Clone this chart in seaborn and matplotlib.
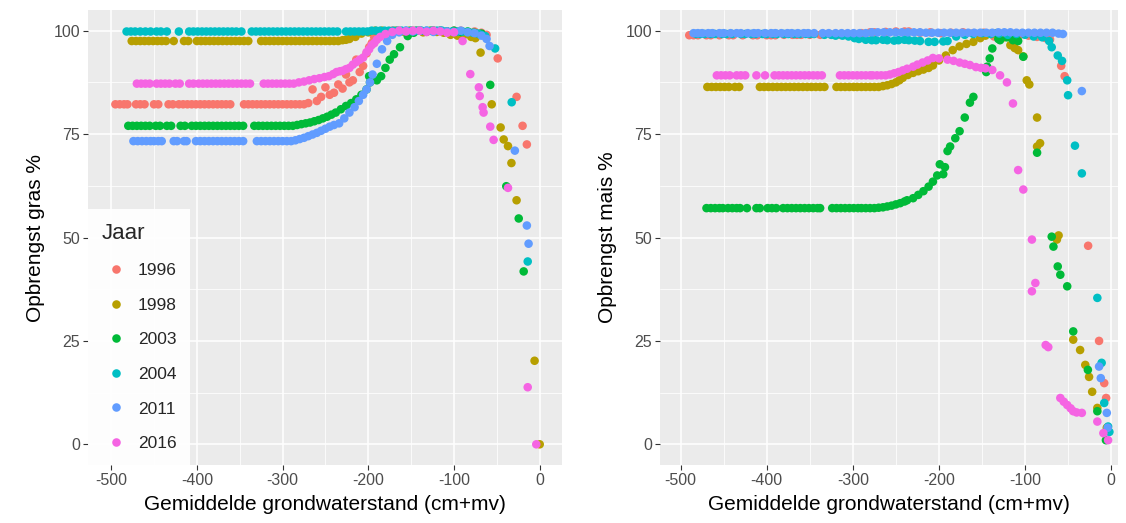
import matplotlib
matplotlib.use("Agg")
import matplotlib.pyplot as plt
from matplotlib.ticker import MultipleLocator
import pandas as pd
import seaborn as sns

jaren = ["1996", "1998", "2003", "2004", "2011", "2016"]
kleuren = ["#F8766D", "#B79F00", "#00BA38", "#00BFC4", "#619CFF", "#F564E3"]

# ---------------- Gras: gemiddelde grondwaterstand (cm+mv) en opbrengst (%) ----------------
gras_1996_x = [-495, -490, -485, -481, -471, -466, -461, -450, -445, -433, -428,
               -421, -416, -411, -406, -401, -396, -391, -386, -381, -376, -371, -366, -361,
               -345, -340, -335, -330, -325, -320, -315, -310, -305, -300, -295, -290, -285, -280, -275,
               -270, -265, -260, -255, -250, -245, -240, -235, -230, -226, -222, -218, -214, -210,
               -206, -202, -199, -196, -193, -189,
               -180, -172, -164, -156, -148, -140, -132, -124, -116, -108, -100, -92, -84, -76, -68, -62,
               -49, -27, -20, -15]
gras_1996_y = [82.2, 82.2, 82.2, 82.2, 82.2, 82.2, 82.2, 82.2, 82.2, 82.2, 82.2,
               82.2, 82.2, 82.2, 82.2, 82.2, 82.2, 82.2, 82.2, 82.2, 82.2, 82.2, 82.2, 82.2,
               82.2, 82.2, 82.2, 82.2, 82.2, 82.2, 82.2, 82.2, 82.2, 82.2, 82.2, 82.2, 82.2, 82.2, 82.2,
               82.5, 85.8, 83.0, 84.0, 86.3, 84.5, 85.0, 87.0, 86.0, 89.4, 87.5, 88.0, 93.0, 90.0,
               91.5, 94.5, 96.0, 97.0, 98.4, 99.5,
               99.8, 100.0, 100.0, 99.8, 100.0, 100.0, 99.7, 100.0, 100.0, 99.8, 100.0, 100.0, 99.6, 99.8, 99.5, 99.0,
               93.3, 84.0, 77.0, 72.5]

gras_1998_x = [-476, -471, -466, -461, -456, -451, -446, -441, -436, -427, -415, -410,
               -400, -395, -390, -385, -380, -375, -370, -365, -360, -355, -350, -345, -340,
               -325, -320, -315, -310, -305, -300, -295, -290, -285, -280, -275, -270, -265, -260,
               -255, -250, -245, -240, -235, -230, -226, -222,
               -215, -208, -200, -192, -184, -176, -168, -160, -152, -144, -136, -128, -120, -112,
               -104, -96, -88, -80, -75,
               -69, -56, -45.6, -42, -37, -33, -27, -6, 0]
gras_1998_y = [97.5, 97.5, 97.5, 97.5, 97.5, 97.5, 97.5, 97.5, 97.5, 97.5, 97.5, 97.5,
               97.5, 97.5, 97.5, 97.5, 97.5, 97.5, 97.5, 97.5, 97.5, 97.5, 97.5, 97.5, 97.5,
               97.5, 97.5, 97.5, 97.5, 97.5, 97.5, 97.5, 97.5, 97.5, 97.5, 97.5, 97.5, 97.5, 97.5,
               97.5, 97.5, 97.5, 97.5, 97.5, 97.7, 97.8, 98.0,
               98.5, 99.3, 99.6, 100.0, 100.0, 99.7, 100.0, 99.8, 100.0, 100.0, 99.6, 100.0, 99.7, 99.5,
               99.0, 98.8, 99.0, 98.5, 98.2,
               94.7, 82.2, 76.6, 73.7, 72.1, 68.0, 59.0, 20.2, 0.0]

gras_2003_x = [-480, -475, -470, -465, -460, -455, -448, -443, -435, -430, -419, -414,
               -406, -401, -396, -391, -386, -381, -376, -371, -366, -361, -356, -351, -346,
               -333, -328, -323, -318, -313, -308, -303, -298, -293, -288,
               -283, -278, -273, -268, -263, -258, -253, -248, -243, -238,
               -232, -226, -220, -214, -208, -202, -198, -199, -190, -185, -180, -175, -170, -163,
               -154, -147, -140, -132, -124, -116, -108, -100, -92, -84, -76, -68,
               -57.7, -39, -24.5, -18.7]
gras_2003_y = [77.0, 77.0, 77.0, 77.0, 77.0, 77.0, 77.0, 77.0, 77.0, 77.0, 77.0, 77.0,
               77.0, 77.0, 77.0, 77.0, 77.0, 77.0, 77.0, 77.0, 77.0, 77.0, 77.0, 77.0, 77.0,
               77.0, 77.0, 77.0, 77.0, 77.0, 77.0, 77.0, 77.0, 77.0, 77.0,
               77.2, 77.4, 77.6, 77.8, 78.1, 78.4, 78.8, 79.2, 79.7, 80.2,
               81.0, 81.8, 82.5, 83.4, 84.5, 85.8, 87.5, 89.0, 88.0, 89.0, 91.0, 93.0, 94.3, 96.0,
               98.7, 99.5, 100.0, 99.8, 100.0, 100.0, 99.8, 100.0, 99.7, 99.8, 99.5, 99.3,
               86.9, 62.4, 54.6, 41.8]

gras_2004_x = [-482, -477, -472, -466, -460, -454, -447, -442, -435, -421,
               -409, -404, -399, -394, -389, -384, -379, -374, -369, -364, -359, -354, -348,
               -336, -331, -326, -321, -316, -311, -306, -301, -296, -291, -286, -281, -276,
               -271, -266, -261, -256, -251, -246, -241, -236,
               -226, -221, -216, -211, -206, -201, -196, -191, -186, -181, -176, -171, -166,
               -161, -156, -150, -144, -138, -132, -126, -120, -114, -108, -102, -96, -90,
               -84, -78, -72,
               -68, -63.5, -52, -32.7, -14]
gras_2004_y = [99.8, 99.8, 99.8, 99.8, 99.8, 99.8, 99.8, 99.8, 99.8, 99.8,
               99.8, 99.8, 99.8, 99.8, 99.8, 99.8, 99.8, 99.8, 99.8, 99.8, 99.8, 99.8, 99.8,
               99.8, 99.8, 99.8, 99.8, 99.8, 99.8, 99.8, 99.8, 99.8, 99.8, 99.8, 99.8, 99.8,
               99.8, 99.8, 99.8, 99.8, 99.8, 99.8, 99.8, 99.8,
               99.8, 99.8, 99.8, 99.8, 99.8, 99.8, 100.0, 100.0, 100.0, 100.0, 100.0, 100.0, 100.0,
               100.0, 100.0, 100.0, 100.0, 100.0, 100.0, 100.0, 100.0, 100.0, 99.8, 99.8, 99.8, 99.8,
               99.7, 99.5, 99.3,
               99.0, 98.7, 95.7, 82.7, 44.2]

gras_2011_x = [-474, -469, -464, -459, -454, -450, -445, -441, -427, -423, -415, -412,
               -401, -396, -391, -386, -381, -376, -371, -366, -361, -356, -351, -346,
               -330, -325, -320, -315, -310, -305, -300, -295, -290,
               -285, -280, -275, -270, -265, -260, -255, -250, -245, -240, -234,
               -228, -222, -216, -211, -206, -202, -198, -195, -190, -184, -178, -172, -164,
               -156, -148, -140, -132, -124, -116, -108, -100, -92, -84, -76, -68, -62,
               -58.5, -29, -15, -13]
gras_2011_y = [73.3, 73.3, 73.3, 73.3, 73.3, 73.3, 73.3, 73.3, 73.3, 73.3, 73.3, 73.3,
               73.3, 73.3, 73.3, 73.3, 73.3, 73.3, 73.3, 73.3, 73.3, 73.3, 73.3, 73.3,
               73.3, 73.3, 73.3, 73.3, 73.3, 73.3, 73.3, 73.3, 73.3,
               73.5, 73.8, 74.1, 74.5, 74.9, 75.3, 75.8, 76.3, 76.8, 77.2, 77.6,
               78.8, 80.2, 81.5, 83.0, 84.5, 85.8, 87.5, 89.4, 92.0, 95.5, 97.5, 99.0, 99.6,
               100.0, 99.8, 100.0, 100.0, 99.7, 100.0, 99.8, 99.7, 100.0, 99.6, 99.4, 98.8, 98.0,
               96.3, 71.0, 52.9, 48.5]

gras_2016_x = [-470, -465, -460, -455, -447, -442, -437, -432, -425, -420, -409, -404,
               -398, -393, -388, -383, -378, -373, -368, -363, -358, -353, -348, -343, -338,
               -322, -317, -312, -307, -302, -297, -292, -287,
               -281, -275, -269, -263, -257, -251, -246, -241, -237, -233, -230, -226, -222,
               -218, -214, -210, -206, -202, -199, -196, -193, -190, -186, -180, -172, -164,
               -156, -148, -140, -132, -124, -116, -108, -100, -90,
               -81, -71, -70, -66.6, -65.5, -57.7, -53.8, -37, -14, -4]
gras_2016_y = [87.2, 87.2, 87.2, 87.2, 87.2, 87.2, 87.2, 87.2, 87.2, 87.2, 87.2, 87.2,
               87.2, 87.2, 87.2, 87.2, 87.2, 87.2, 87.2, 87.2, 87.2, 87.2, 87.2, 87.2, 87.2,
               87.2, 87.2, 87.2, 87.2, 87.2, 87.2, 87.2, 87.2,
               87.5, 87.7, 88.0, 88.3, 88.5, 88.8, 89.0, 89.5, 90.0, 90.2, 90.3, 90.7, 91.0,
               91.8, 92.4, 93.0, 93.5, 94.8, 95.5, 96.5, 97.0, 97.8, 98.5, 99.2, 99.7, 100.0,
               99.8, 100.0, 100.0, 99.7, 100.0, 99.8, 99.5, 99.6, 97.5,
               89.5, 86.3, 84.2, 81.5, 80.2, 76.8, 73.6, 62.0, 13.8, 0.0]

# ---------------- Mais: gemiddelde grondwaterstand (cm+mv) en opbrengst (%) ----------------
mais_1996_x = [-490, -485, -480, -470, -465, -455, -444, -439, -428, -416, -411,
               -400, -395, -390, -380, -370, -365, -360, -350, -338, -325, -320, -315, -310,
               -300, -290, -280, -275, -262, -250, -240, -235, -222, -210, -198, -186,
               -172, -160, -148, -136, -126, -116, -106, -96, -86, -76, -71,
               -58, -54, -26.7, -14, -8, -5.8]
mais_1996_y = [98.9, 98.9, 98.9, 98.9, 98.9, 98.9, 98.9, 98.9, 98.9, 98.9, 98.9,
               98.9, 98.9, 98.9, 99.0, 99.0, 99.0, 99.0, 99.0, 99.0, 99.0, 99.0, 99.0, 99.0,
               99.2, 99.4, 99.6, 99.6, 99.7, 99.8, 99.8, 99.8, 99.5, 99.6, 99.4, 99.5,
               99.6, 99.4, 99.5, 98.6, 98.5, 98.8, 99.0, 98.8, 98.5, 98.2, 97.9,
               91.5, 89.0, 48.0, 25.0, 14.8, 11.2]

mais_1998_x = [-469, -464, -459, -454, -449, -444, -437, -432, -408, -403, -398,
               -393, -388, -383, -378, -373, -368, -363, -358, -353, -348, -343, -338, -333,
               -319, -314, -309, -304, -299, -295, -290, -285, -280, -275, -270,
               -265, -260, -255, -250, -246, -242,
               -236, -230, -224, -218, -212, -207, -200, -192, -184, -176, -168, -160, -152,
               -146, -138, -130, -124,
               -117, -112, -108, -102, -98, -95, -86, -82.5, -86, -63, -61, -44, -36, -30,
               -25.6, -22, -16, -5]
mais_1998_y = [86.4, 86.4, 86.4, 86.4, 86.4, 86.4, 86.4, 86.4, 86.4, 86.4, 86.4,
               86.4, 86.4, 86.4, 86.4, 86.4, 86.4, 86.4, 86.4, 86.4, 86.4, 86.4, 86.4, 86.4,
               86.4, 86.4, 86.4, 86.4, 86.4, 86.4, 86.4, 86.4, 86.4, 86.4, 86.4,
               86.6, 86.8, 87.1, 87.5, 88.0, 88.6,
               89.3, 89.8, 90.2, 90.6, 91.0, 91.6, 92.8, 94.0, 95.3, 96.2, 96.8, 97.3, 98.2,
               98.8, 99.2, 99.0, 98.4,
               96.5, 95.8, 95.3, 93.8, 88.0, 87.0, 79.0, 72.8, 72.0, 49.5, 50.5, 25.3, 22.8, 19.2,
               16.3, 12.7, 8.8, 4.0]

mais_2003_x = [-470, -465, -460, -455, -451, -445, -440, -435, -431, -423, -412, -408,
               -399, -394, -389, -381, -376, -371, -366, -361, -356, -351, -346, -341, -338,
               -324, -319, -314, -309, -304, -299, -294, -290, -285, -280, -275,
               -270, -265, -260, -255, -250, -245, -240, -237,
               -230, -224, -218, -212, -207, -202, -199, -195, -193, -190, -187, -181, -176,
               -170, -164, -160, -145, -144, -141, -138, -133, -131, -129, -121, -114, -108, -102,
               -86, -69, -67, -62, -59, -51, -44, -27, -16, -6]
mais_2003_y = [57.1, 57.1, 57.1, 57.1, 57.1, 57.1, 57.1, 57.1, 57.1, 57.1, 57.1, 57.1,
               57.1, 57.1, 57.1, 57.1, 57.1, 57.1, 57.1, 57.1, 57.1, 57.1, 57.1, 57.1, 57.1,
               57.1, 57.1, 57.1, 57.1, 57.1, 57.1, 57.1, 57.1, 57.1, 57.1, 57.1,
               57.2, 57.3, 57.5, 57.7, 58.0, 58.3, 58.7, 59.0,
               59.5, 60.3, 61.2, 62.3, 63.5, 65.0, 67.7, 65.3, 67.0, 70.9, 72.0, 74.0, 75.7,
               79.0, 82.6, 84.0, 90.0, 91.3, 93.3, 95.7, 99.4, 98.0, 97.7, 98.4, 97.7, 97.5, 93.7,
               70.5, 50.2, 47.8, 43.0, 41.0, 38.2, 27.3, 18.0, 8.0, 1.0]

mais_2004_x = [-482, -477, -472, -465, -460, -452, -447, -440, -430, -425, -418, -413,
               -405, -400, -393, -388, -380, -375, -368, -362, -355, -350, -345, -333,
               -325, -320, -312, -305, -298, -293, -285, -278, -273, -265, -260, -252,
               -247, -240, -235, -228, -222, -212, -205, -195, -190, -180, -170, -160,
               -150, -140, -130, -120, -110, -100, -90, -80, -72,
               -69, -62, -57, -51, -50, -42, -34, -16, -11, -8, -3.5, -2]
mais_2004_y = [99.2, 99.2, 99.2, 99.2, 99.2, 99.2, 99.2, 99.2, 99.2, 99.2, 99.2, 99.2,
               99.2, 99.2, 99.2, 99.2, 99.2, 99.2, 99.2, 99.2, 99.2, 99.2, 99.2, 99.0,
               99.0, 98.8, 98.8, 98.6, 98.2, 98.0, 97.8, 97.7, 97.7, 97.8, 97.7, 97.6,
               97.7, 97.8, 97.7, 97.6, 97.5, 97.3, 97.3, 97.4, 97.5, 98.6, 99.0, 99.2,
               99.4, 99.2, 99.3, 99.0, 99.2, 99.0, 98.6, 98.4, 97.5,
               96.0, 94.0, 92.7, 88.0, 84.4, 72.2, 65.5, 35.4, 19.7, 10.0, 4.3, 3.0]

mais_2011_x = [-485, -480, -475, -468, -463, -455, -450, -442, -435, -430, -422, -415,
               -410, -402, -395, -390, -383, -376, -371, -364, -357, -352, -345, -335,
               -328, -320, -313, -306, -299, -292, -285, -278, -271, -264, -257, -250,
               -243, -236, -229, -222, -215, -208, -201, -194, -187, -180, -173, -166,
               -159, -152, -145, -138, -131, -124, -117, -110, -103, -96, -89, -82,
               -75, -68, -61, -56,
               -34, -14, -12, -5, -4]
mais_2011_y = [99.4, 99.4, 99.4, 99.4, 99.4, 99.4, 99.4, 99.4, 99.4, 99.4, 99.4, 99.4,
               99.4, 99.4, 99.4, 99.4, 99.4, 99.4, 99.4, 99.4, 99.4, 99.4, 99.4, 99.4,
               99.4, 99.4, 99.4, 99.4, 99.4, 99.4, 99.4, 99.6, 99.6, 99.6, 99.6, 99.6,
               99.6, 99.6, 99.6, 99.6, 99.5, 99.5, 99.5, 99.5, 99.5, 99.5, 99.5, 99.5,
               99.5, 99.5, 99.5, 99.5, 99.6, 99.6, 99.6, 99.5, 99.5, 99.5, 99.5, 99.5,
               99.5, 99.5, 99.3, 99.2,
               85.4, 18.8, 16.0, 7.6, 4.0]

mais_2016_x = [-458, -453, -448, -443, -435, -430, -425, -412, -402,
               -391, -386, -381, -376, -371, -366, -361, -356, -351, -346, -341, -336,
               -315, -310, -305, -300, -295, -290, -285, -280, -277, -272, -267, -262,
               -257, -252, -247, -242, -237,
               -230, -225, -219, -213, -207, -200, -190, -183, -176, -170, -164, -157, -151,
               -146, -138, -129, -121,
               -114, -108, -102, -92, -88, -92, -76, -73, -59, -55, -51, -47, -44, -40, -34,
               -16, -9, -3.5]
mais_2016_y = [89.2, 89.2, 89.2, 89.2, 89.2, 89.2, 89.2, 89.2, 89.2,
               89.2, 89.2, 89.2, 89.2, 89.2, 89.2, 89.2, 89.2, 89.2, 89.2, 89.2, 89.2,
               89.2, 89.2, 89.2, 89.2, 89.2, 89.2, 89.2, 89.2, 89.2, 89.2, 89.2, 89.2,
               89.4, 89.7, 90.0, 90.4, 90.8,
               91.3, 91.8, 92.3, 92.8, 93.4, 93.3, 93.0, 92.7, 92.3, 92.0, 91.7, 91.2, 91.0,
               90.9, 90.5, 89.2, 87.5,
               82.4, 66.3, 61.6, 49.5, 39.0, 37.0, 24.0, 23.5, 11.2, 10.3, 9.5, 8.7, 8.0, 7.7, 7.6,
               5.5, 2.7, 1.0]

x_ticks = [-500, -400, -300, -200, -100, 0]
y_ticks = [0, 25, 50, 75, 100]


def lange_tabel(reeksen):
    delen = []
    for jaar, (xs, ys) in zip(jaren, reeksen):
        delen.append(pd.DataFrame({"gws": xs, "opbrengst": ys, "Jaar": jaar}))
    return pd.concat(delen, ignore_index=True)


gras = lange_tabel([(gras_1996_x, gras_1996_y), (gras_1998_x, gras_1998_y),
                    (gras_2003_x, gras_2003_y), (gras_2004_x, gras_2004_y),
                    (gras_2011_x, gras_2011_y), (gras_2016_x, gras_2016_y)])
mais = lange_tabel([(mais_1996_x, mais_1996_y), (mais_1998_x, mais_1998_y),
                    (mais_2003_x, mais_2003_y), (mais_2004_x, mais_2004_y),
                    (mais_2011_x, mais_2011_y), (mais_2016_x, mais_2016_y)])

sns.set_theme(style="darkgrid")
plt.rcParams["font.family"] = ["Liberation Sans", "DejaVu Sans"]
plt.rcParams["axes.unicode_minus"] = False

fig = plt.figure(figsize=(11.26, 5.23), dpi=100)
fig.patch.set_facecolor("white")
ax_gras = fig.add_axes([88 / 1126, 58 / 523, 474 / 1126, 455 / 523])
ax_mais = fig.add_axes([660 / 1126, 58 / 523, 458 / 1126, 455 / 523])

panelen = [
    (ax_gras, gras, "Opbrengst gras %", (-527, 26), True),
    (ax_mais, mais, "Opbrengst mais %", (-524, 8), False),
]

for ax, df, ylabel, xlim, met_legenda in panelen:
    ax.set_facecolor("#EBEBEB")
    sns.scatterplot(data=df, x="gws", y="opbrengst", hue="Jaar", hue_order=jaren,
                    palette=kleuren, s=38, linewidth=0, edgecolor="none", alpha=1,
                    ax=ax, legend=met_legenda, zorder=3)
    ax.set_xlim(*xlim)
    ax.set_ylim(-5, 105)
    ax.set_xticks(x_ticks)
    ax.set_yticks(y_ticks)
    ax.set_xticklabels([str(v) for v in x_ticks])
    ax.set_yticklabels([str(v) for v in y_ticks])
    ax.xaxis.set_minor_locator(MultipleLocator(50))
    ax.yaxis.set_minor_locator(MultipleLocator(12.5))
    ax.grid(which="major", color="white", linewidth=1.1)
    ax.grid(which="minor", color="white", linewidth=0.55)
    ax.set_axisbelow(True)
    for sp in ax.spines.values():
        sp.set_visible(False)
    ax.tick_params(which="major", length=3.5, width=0.8, color="#333333",
                   labelcolor="#4D4D4D", labelsize=11.5, pad=2, left=True, bottom=True)
    ax.tick_params(which="minor", length=0)
    ax.set_xlabel("Gemiddelde grondwaterstand (cm+mv)", fontsize=15, color="black", labelpad=5)
    ax.set_ylabel(ylabel, fontsize=15, color="black", labelpad=6)

handles, labels = ax_gras.get_legend_handles_labels()
leg = ax_gras.legend(handles, labels, title="Jaar", loc="lower left",
                     bbox_to_anchor=(0.0, 0.0), borderaxespad=0.0, frameon=True,
                     fontsize=12.5, title_fontsize=16, labelspacing=1.12,
                     handlelength=1.6, handletextpad=0.46, borderpad=0.8,
                     alignment="left", markerscale=1.0, fancybox=False)
leg.get_frame().set_facecolor("white")
leg.get_frame().set_edgecolor("none")
leg.get_frame().set_alpha(0.92)

fig.savefig("out.png", dpi=100, facecolor="white")
